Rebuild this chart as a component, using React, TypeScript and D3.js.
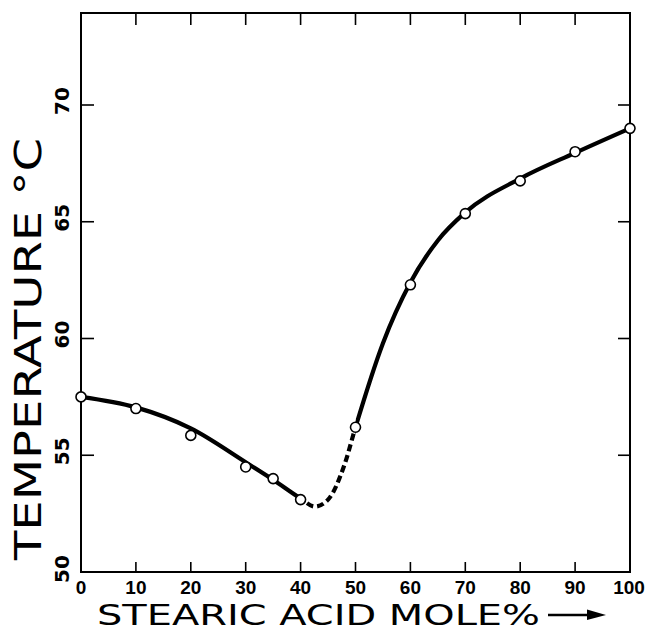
import React from "react";
import * as d3 from "d3";

const W = 645;
const H = 632;

// measured points (open circles)
const pointX = [0, 10, 20, 30, 35, 40, 50, 60, 70, 80, 90, 100];
const pointY = [57.5, 57.0, 55.85, 54.5, 54.0, 53.1, 56.2, 62.3, 65.35, 66.75, 68.0, 69.0];

// smooth curve drawn through the data
const curveX = [0, 10, 20, 30, 35, 40, 42.6, 45, 48, 50, 55, 60, 65, 70, 80, 90, 100];
const curveY = [57.5, 57.05, 56.15, 54.7, 53.95, 53.15, 52.8, 53.1, 54.6, 56.2, 59.8, 62.4, 64.2, 65.4, 66.85, 67.95, 69.0];

const dashStart = 40.5;
const dashEnd = 50;

const xTicks = [0, 10, 20, 30, 40, 50, 60, 70, 80, 90, 100];
const yTicks = [50, 55, 60, 65, 70];

const xTitle = "STEARIC ACID MOLE%";
const yTitle = "TEMPERATURE °C";

export default function App() {
  const left = 81, right = 630, top = 13, bottom = 572;
  const x = d3.scaleLinear().domain([0, 100]).range([left, right]);
  const y = d3.scaleLinear().domain([50, 70]).range([bottom, 105]);

  const line = d3
    .line<number>()
    .x((d, i) => x(curveX[i]))
    .y((d) => y(d))
    .curve(d3.curveMonotoneX);
  const pathD = line(curveY) || "";

  const tickLen = 10;
  const font = "'DejaVu Sans', sans-serif";
  const tickFont = "'Liberation Sans', Arial, sans-serif";

  return (
    <div style={{ position: "absolute", left: 0, top: 0 }}>
      <svg width={W} height={H} style={{ display: "block", background: "#fff" }}>
        <defs>
          <clipPath id="solidA">
            <rect x={0} y={0} width={x(dashStart)} height={H} />
          </clipPath>
          <clipPath id="solidB">
            <rect x={x(dashEnd)} y={0} width={W} height={H} />
          </clipPath>
          <clipPath id="dashC">
            <rect x={x(dashStart)} y={0} width={x(dashEnd) - x(dashStart)} height={H} />
          </clipPath>
        </defs>

        {/* frame */}
        <rect
          x={left}
          y={top}
          width={right - left}
          height={bottom - top}
          fill="none"
          stroke="#000"
          strokeWidth={2}
        />

        {/* x ticks top & bottom */}
        {xTicks.slice(1, -1).map((t) => (
          <g key={"xt" + t}>
            <line x1={x(t)} x2={x(t)} y1={bottom} y2={bottom - tickLen} stroke="#000" strokeWidth={1.6} />
            <line x1={x(t)} x2={x(t)} y1={top} y2={top + tickLen + 2} stroke="#000" strokeWidth={1.6} />
          </g>
        ))}
        {/* y ticks left & right */}
        {yTicks.slice(1).map((t) => (
          <g key={"yt" + t}>
            <line x1={left} x2={left + tickLen + 3} y1={y(t)} y2={y(t)} stroke="#000" strokeWidth={1.6} />
            <line x1={right} x2={right - tickLen - 2} y1={y(t)} y2={y(t)} stroke="#000" strokeWidth={1.6} />
          </g>
        ))}

        {/* x tick labels */}
        {xTicks.map((t) => (
          <text
            key={"xl" + t}
            x={t === 100 ? x(t) - 1 : x(t)}
            y={587}
            textAnchor="middle"
            dominantBaseline="central"
            fontFamily={tickFont}
            fontWeight="bold"
            fontSize={19}
          >
            {t}
          </text>
        ))}
        {/* y tick labels */}
        {yTicks.map((t) => (
          <text
            key={"yl" + t}
            transform={`translate(62,${t === 50 ? y(t) - 3 : y(t) - 4}) rotate(-90)`}
            textAnchor="middle"
            dominantBaseline="central"
            fontFamily={font}
            fontWeight="bold"
            fontSize={20}
          >
            {t}
          </text>
        ))}

        {/* curve */}
        <path d={pathD} fill="none" stroke="#000" strokeWidth={4.2} clipPath="url(#solidA)" />
        <path d={pathD} fill="none" stroke="#000" strokeWidth={4.2} clipPath="url(#solidB)" />
        <path
          d={pathD}
          fill="none"
          stroke="#000"
          strokeWidth={4.2}
          strokeDasharray="7 4"
          clipPath="url(#dashC)"
        />

        {/* points */}
        {pointX.map((px, i) => (
          <circle
            key={"p" + i}
            cx={x(px)}
            cy={y(pointY[i])}
            r={5}
            fill="#fff"
            stroke="#000"
            strokeWidth={1.6}
          />
        ))}

        {/* x title */}
        <text
          x={97}
          y={625}
          fontFamily={font}
          fontSize={28}
          textLength={443}
          lengthAdjust="spacingAndGlyphs"
        >
          {xTitle}
        </text>
        {/* arrow */}
        <line x1={548} x2={592} y1={615} y2={615} stroke="#000" strokeWidth={2.5} />
        <path d="M587,609.5 L606,615 L587,620 Z" fill="#000" />

        {/* y title */}
        <text
          transform="translate(41,349) rotate(-90)"
          textAnchor="middle"
          fontFamily={font}
          fontSize={38}
          textLength={422}
          lengthAdjust="spacingAndGlyphs"
        >
          {yTitle}
        </text>
      </svg>
    </div>
  );
}
